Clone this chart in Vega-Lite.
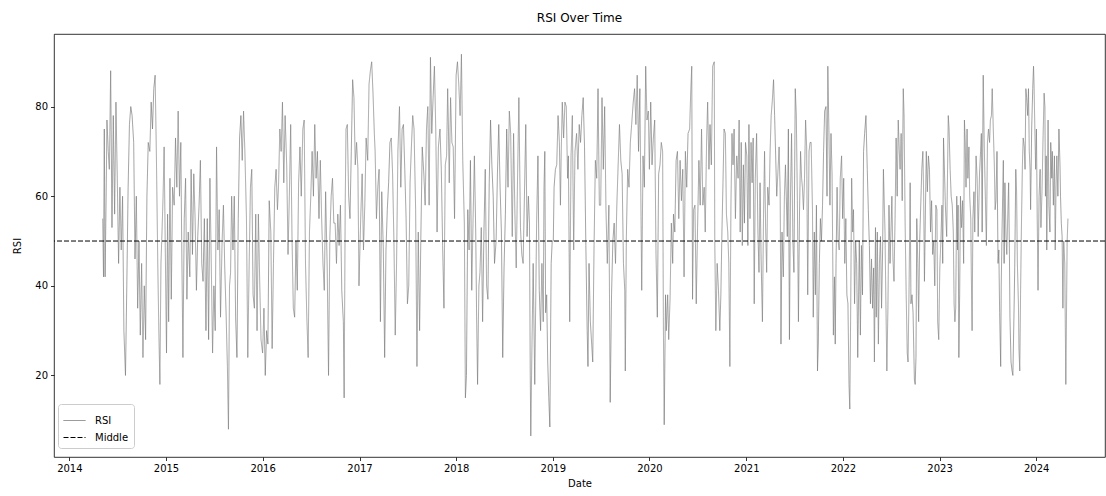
{
"$schema": "https://vega.github.io/schema/vega-lite/v6.json",
"width": 1051, "height": 423,
"autosize": {"type": "none"},
"padding": {"left": 54, "top": 34, "right": 1, "bottom": 39},
"background": "white",
"title": {"text": "RSI Over Time", "fontSize": 12, "font": "DejaVu Sans", "fontWeight": "normal", "color": "black", "offset": 9},
"datasets": {"rsi": [
{"d":"2014-05-07","v":55},{"d":"2014-05-10","v":42},{"d":"2014-05-13","v":75},{"d":"2014-05-16","v":42},{"d":"2014-05-20","v":60},{"d":"2014-05-23","v":77},{"d":"2014-05-28","v":70},
{"d":"2014-06-01","v":66},{"d":"2014-06-06","v":88},{"d":"2014-06-11","v":53},{"d":"2014-06-16","v":78},{"d":"2014-06-21","v":56},{"d":"2014-06-26","v":81},
{"d":"2014-07-01","v":64},{"d":"2014-07-06","v":45},{"d":"2014-07-11","v":62},{"d":"2014-07-16","v":48},{"d":"2014-07-21","v":60},{"d":"2014-07-26","v":30},
{"d":"2014-08-01","v":20},{"d":"2014-08-06","v":40},{"d":"2014-08-11","v":62},{"d":"2014-08-16","v":76},{"d":"2014-08-21","v":80},{"d":"2014-08-26","v":78},
{"d":"2014-09-01","v":72},{"d":"2014-09-06","v":46},{"d":"2014-09-11","v":60},{"d":"2014-09-16","v":35},{"d":"2014-09-21","v":50},{"d":"2014-09-26","v":29},
{"d":"2014-10-01","v":45},{"d":"2014-10-06","v":24},{"d":"2014-10-11","v":40},{"d":"2014-10-16","v":28},{"d":"2014-10-21","v":60},{"d":"2014-10-26","v":72},
{"d":"2014-11-01","v":70},{"d":"2014-11-06","v":81},{"d":"2014-11-11","v":75},{"d":"2014-11-16","v":84},{"d":"2014-11-21","v":87},{"d":"2014-11-26","v":68},
{"d":"2014-12-01","v":45},{"d":"2014-12-05","v":30},{"d":"2014-12-09","v":18},{"d":"2014-12-13","v":45},{"d":"2014-12-17","v":52},{"d":"2014-12-21","v":60},{"d":"2014-12-25","v":71},{"d":"2014-12-29","v":50},
{"d":"2015-01-03","v":25},{"d":"2015-01-07","v":56},{"d":"2015-01-11","v":32},{"d":"2015-01-16","v":64},{"d":"2015-01-21","v":37},{"d":"2015-01-26","v":62},
{"d":"2015-02-01","v":58},{"d":"2015-02-06","v":73},{"d":"2015-02-11","v":62},{"d":"2015-02-16","v":79},{"d":"2015-02-21","v":60},{"d":"2015-02-26","v":72},
{"d":"2015-03-01","v":52},{"d":"2015-03-06","v":24},{"d":"2015-03-11","v":55},{"d":"2015-03-16","v":64},{"d":"2015-03-21","v":37},{"d":"2015-03-26","v":52},
{"d":"2015-04-01","v":42},{"d":"2015-04-06","v":66},{"d":"2015-04-11","v":47},{"d":"2015-04-16","v":65},{"d":"2015-04-21","v":55},{"d":"2015-04-26","v":39},
{"d":"2015-05-01","v":51},{"d":"2015-05-06","v":58},{"d":"2015-05-11","v":68},{"d":"2015-05-16","v":45},{"d":"2015-05-21","v":41},{"d":"2015-05-26","v":55},
{"d":"2015-06-01","v":30},{"d":"2015-06-06","v":55},{"d":"2015-06-11","v":28},{"d":"2015-06-16","v":64},{"d":"2015-06-21","v":45},{"d":"2015-06-26","v":25},
{"d":"2015-07-01","v":40},{"d":"2015-07-06","v":30},{"d":"2015-07-11","v":71},{"d":"2015-07-16","v":48},{"d":"2015-07-21","v":57},{"d":"2015-07-26","v":33},
{"d":"2015-08-01","v":50},{"d":"2015-08-06","v":58},{"d":"2015-08-11","v":44},{"d":"2015-08-16","v":34},{"d":"2015-08-21","v":22},{"d":"2015-08-25","v":8},{"d":"2015-08-29","v":40},
{"d":"2015-09-02","v":43},{"d":"2015-09-06","v":60},{"d":"2015-09-11","v":48},{"d":"2015-09-16","v":60},{"d":"2015-09-21","v":33},{"d":"2015-09-26","v":24},
{"d":"2015-10-01","v":55},{"d":"2015-10-06","v":73},{"d":"2015-10-11","v":78},{"d":"2015-10-16","v":68},{"d":"2015-10-21","v":79},{"d":"2015-10-26","v":70},
{"d":"2015-11-01","v":55},{"d":"2015-11-06","v":24},{"d":"2015-11-11","v":44},{"d":"2015-11-16","v":62},{"d":"2015-11-21","v":66},{"d":"2015-11-26","v":38},
{"d":"2015-12-01","v":35},{"d":"2015-12-06","v":56},{"d":"2015-12-11","v":30},{"d":"2015-12-16","v":56},{"d":"2015-12-21","v":41},{"d":"2015-12-26","v":28},
{"d":"2016-01-01","v":25},{"d":"2016-01-06","v":35},{"d":"2016-01-11","v":20},{"d":"2016-01-16","v":30},{"d":"2016-01-21","v":27},{"d":"2016-01-26","v":59},
{"d":"2016-02-01","v":52},{"d":"2016-02-06","v":26},{"d":"2016-02-11","v":45},{"d":"2016-02-16","v":62},{"d":"2016-02-21","v":66},{"d":"2016-02-26","v":57},
{"d":"2016-03-01","v":62},{"d":"2016-03-06","v":75},{"d":"2016-03-11","v":70},{"d":"2016-03-16","v":81},{"d":"2016-03-21","v":63},{"d":"2016-03-26","v":78},
{"d":"2016-04-01","v":67},{"d":"2016-04-06","v":47},{"d":"2016-04-11","v":60},{"d":"2016-04-16","v":76},{"d":"2016-04-21","v":51},{"d":"2016-04-26","v":35},
{"d":"2016-05-01","v":33},{"d":"2016-05-06","v":50},{"d":"2016-05-11","v":39},{"d":"2016-05-16","v":63},{"d":"2016-05-21","v":71},{"d":"2016-05-26","v":60},
{"d":"2016-06-01","v":75},{"d":"2016-06-06","v":77},{"d":"2016-06-11","v":45},{"d":"2016-06-16","v":33},{"d":"2016-06-21","v":24},{"d":"2016-06-26","v":52},
{"d":"2016-07-01","v":60},{"d":"2016-07-06","v":70},{"d":"2016-07-11","v":60},{"d":"2016-07-16","v":76},{"d":"2016-07-21","v":64},{"d":"2016-07-26","v":70},
{"d":"2016-08-01","v":55},{"d":"2016-08-06","v":68},{"d":"2016-08-11","v":55},{"d":"2016-08-16","v":45},{"d":"2016-08-21","v":39},{"d":"2016-08-26","v":61},
{"d":"2016-09-01","v":44},{"d":"2016-09-06","v":20},{"d":"2016-09-11","v":51},{"d":"2016-09-16","v":60},{"d":"2016-09-21","v":64},{"d":"2016-09-26","v":54},
{"d":"2016-10-01","v":54},{"d":"2016-10-06","v":45},{"d":"2016-10-11","v":56},{"d":"2016-10-16","v":49},{"d":"2016-10-21","v":58},{"d":"2016-10-26","v":39},
{"d":"2016-11-01","v":32},{"d":"2016-11-04","v":15},{"d":"2016-11-08","v":58},{"d":"2016-11-11","v":75},{"d":"2016-11-16","v":76},{"d":"2016-11-21","v":60},{"d":"2016-11-26","v":55},
{"d":"2016-12-01","v":70},{"d":"2016-12-06","v":86},{"d":"2016-12-11","v":82},{"d":"2016-12-16","v":67},{"d":"2016-12-21","v":72},{"d":"2016-12-26","v":66},{"d":"2016-12-30","v":40},
{"d":"2017-01-06","v":56},{"d":"2017-01-11","v":65},{"d":"2017-01-16","v":48},{"d":"2017-01-21","v":58},{"d":"2017-01-26","v":73},
{"d":"2017-02-01","v":68},{"d":"2017-02-06","v":85},{"d":"2017-02-11","v":88},{"d":"2017-02-16","v":90},{"d":"2017-02-21","v":83},{"d":"2017-02-26","v":74},
{"d":"2017-03-01","v":70},{"d":"2017-03-06","v":55},{"d":"2017-03-11","v":62},{"d":"2017-03-16","v":66},{"d":"2017-03-21","v":32},{"d":"2017-03-26","v":61},
{"d":"2017-04-01","v":48},{"d":"2017-04-06","v":24},{"d":"2017-04-11","v":48},{"d":"2017-04-16","v":57},{"d":"2017-04-21","v":63},{"d":"2017-04-26","v":72},
{"d":"2017-05-01","v":73},{"d":"2017-05-06","v":65},{"d":"2017-05-11","v":50},{"d":"2017-05-16","v":29},{"d":"2017-05-21","v":45},{"d":"2017-05-26","v":70},
{"d":"2017-06-01","v":80},{"d":"2017-06-06","v":62},{"d":"2017-06-11","v":75},{"d":"2017-06-16","v":76},{"d":"2017-06-21","v":66},{"d":"2017-06-26","v":55},
{"d":"2017-07-01","v":36},{"d":"2017-07-06","v":40},{"d":"2017-07-11","v":63},{"d":"2017-07-16","v":71},{"d":"2017-07-21","v":78},{"d":"2017-07-26","v":75},
{"d":"2017-08-01","v":57},{"d":"2017-08-06","v":22},{"d":"2017-08-11","v":52},{"d":"2017-08-16","v":30},{"d":"2017-08-21","v":52},{"d":"2017-08-26","v":71},
{"d":"2017-09-01","v":65},{"d":"2017-09-06","v":58},{"d":"2017-09-11","v":75},{"d":"2017-09-16","v":80},{"d":"2017-09-21","v":58},{"d":"2017-09-26","v":91},
{"d":"2017-10-01","v":74},{"d":"2017-10-06","v":82},{"d":"2017-10-11","v":89},{"d":"2017-10-16","v":75},{"d":"2017-10-21","v":52},{"d":"2017-10-26","v":71},
{"d":"2017-11-01","v":75},{"d":"2017-11-06","v":66},{"d":"2017-11-11","v":49},{"d":"2017-11-16","v":35},{"d":"2017-11-21","v":67},{"d":"2017-11-26","v":69},{"d":"2017-11-30","v":84},
{"d":"2017-12-03","v":75},{"d":"2017-12-06","v":63},{"d":"2017-12-11","v":82},{"d":"2017-12-16","v":72},{"d":"2017-12-21","v":71},{"d":"2017-12-26","v":55},
{"d":"2018-01-01","v":87},{"d":"2018-01-06","v":90},{"d":"2018-01-11","v":85},{"d":"2018-01-16","v":78},{"d":"2018-01-21","v":91.7},{"d":"2018-01-26","v":68},
{"d":"2018-02-01","v":54},{"d":"2018-02-05","v":15},{"d":"2018-02-09","v":20},{"d":"2018-02-14","v":57},{"d":"2018-02-19","v":48},{"d":"2018-02-24","v":68},
{"d":"2018-03-01","v":39},{"d":"2018-03-06","v":55},{"d":"2018-03-11","v":69},{"d":"2018-03-16","v":52},{"d":"2018-03-19","v":35},{"d":"2018-03-23","v":18},{"d":"2018-03-28","v":40},
{"d":"2018-04-01","v":43},{"d":"2018-04-06","v":53},{"d":"2018-04-11","v":32},{"d":"2018-04-16","v":52},{"d":"2018-04-21","v":66},{"d":"2018-04-26","v":40},
{"d":"2018-05-01","v":37},{"d":"2018-05-06","v":63},{"d":"2018-05-11","v":77},{"d":"2018-05-16","v":67},{"d":"2018-05-21","v":60},{"d":"2018-05-26","v":45},
{"d":"2018-06-01","v":50},{"d":"2018-06-06","v":65},{"d":"2018-06-11","v":76},{"d":"2018-06-16","v":62},{"d":"2018-06-21","v":52},{"d":"2018-06-26","v":24},
{"d":"2018-07-01","v":44},{"d":"2018-07-06","v":56},{"d":"2018-07-11","v":75},{"d":"2018-07-16","v":62},{"d":"2018-07-21","v":79},{"d":"2018-07-26","v":74},
{"d":"2018-08-01","v":51},{"d":"2018-08-06","v":74},{"d":"2018-08-11","v":56},{"d":"2018-08-16","v":44},{"d":"2018-08-21","v":64},{"d":"2018-08-26","v":82},
{"d":"2018-09-01","v":53},{"d":"2018-09-06","v":47},{"d":"2018-09-11","v":45},{"d":"2018-09-16","v":60},{"d":"2018-09-21","v":76},{"d":"2018-09-26","v":51},
{"d":"2018-10-01","v":60},{"d":"2018-10-05","v":54},{"d":"2018-10-08","v":20},{"d":"2018-10-10","v":6.5},{"d":"2018-10-14","v":25},{"d":"2018-10-19","v":45},{"d":"2018-10-25","v":18},
{"d":"2018-11-01","v":54},{"d":"2018-11-06","v":69},{"d":"2018-11-11","v":39},{"d":"2018-11-16","v":30},{"d":"2018-11-21","v":45},{"d":"2018-11-26","v":32},{"d":"2018-11-29","v":62},
{"d":"2018-12-02","v":70},{"d":"2018-12-05","v":34},{"d":"2018-12-09","v":38},{"d":"2018-12-13","v":23},{"d":"2018-12-17","v":15},{"d":"2018-12-21","v":8.5},{"d":"2018-12-26","v":45},{"d":"2018-12-30","v":50},
{"d":"2019-01-03","v":50},{"d":"2019-01-06","v":62},{"d":"2019-01-11","v":66},{"d":"2019-01-16","v":67},{"d":"2019-01-21","v":78},{"d":"2019-01-26","v":72},{"d":"2019-01-30","v":58},
{"d":"2019-02-02","v":70},{"d":"2019-02-06","v":81},{"d":"2019-02-11","v":73},{"d":"2019-02-16","v":81},{"d":"2019-02-21","v":80},{"d":"2019-02-26","v":64},
{"d":"2019-03-01","v":69},{"d":"2019-03-06","v":32},{"d":"2019-03-11","v":69},{"d":"2019-03-16","v":78},{"d":"2019-03-21","v":48},{"d":"2019-03-26","v":70},
{"d":"2019-04-01","v":74},{"d":"2019-04-06","v":66},{"d":"2019-04-11","v":76},{"d":"2019-04-16","v":72},{"d":"2019-04-21","v":78},{"d":"2019-04-26","v":82},
{"d":"2019-05-01","v":71},{"d":"2019-05-06","v":49},{"d":"2019-05-11","v":30},{"d":"2019-05-14","v":22},{"d":"2019-05-18","v":45},{"d":"2019-05-23","v":32},{"d":"2019-05-28","v":27},
{"d":"2019-06-01","v":23},{"d":"2019-06-06","v":49},{"d":"2019-06-11","v":68},{"d":"2019-06-16","v":64},{"d":"2019-06-21","v":84},{"d":"2019-06-26","v":58},
{"d":"2019-07-01","v":58},{"d":"2019-07-06","v":82},{"d":"2019-07-11","v":66},{"d":"2019-07-16","v":80},{"d":"2019-07-21","v":57},{"d":"2019-07-26","v":45},
{"d":"2019-08-01","v":58},{"d":"2019-08-06","v":14},{"d":"2019-08-11","v":38},{"d":"2019-08-16","v":50},{"d":"2019-08-21","v":54},{"d":"2019-08-26","v":45},{"d":"2019-08-31","v":58},
{"d":"2019-09-05","v":67},{"d":"2019-09-10","v":76},{"d":"2019-09-15","v":68},{"d":"2019-09-20","v":65},{"d":"2019-09-25","v":45},{"d":"2019-09-30","v":39},
{"d":"2019-10-02","v":21},{"d":"2019-10-06","v":51},{"d":"2019-10-11","v":66},{"d":"2019-10-16","v":62},{"d":"2019-10-21","v":72},{"d":"2019-10-26","v":76},
{"d":"2019-11-01","v":81},{"d":"2019-11-06","v":84},{"d":"2019-11-11","v":76},{"d":"2019-11-16","v":87},{"d":"2019-11-21","v":70},{"d":"2019-11-26","v":84},
{"d":"2019-12-03","v":39},{"d":"2019-12-08","v":69},{"d":"2019-12-13","v":62},{"d":"2019-12-18","v":89},{"d":"2019-12-23","v":77},{"d":"2019-12-28","v":79},
{"d":"2020-01-01","v":66},{"d":"2020-01-06","v":81},{"d":"2020-01-11","v":67},{"d":"2020-01-16","v":73},{"d":"2020-01-21","v":77},{"d":"2020-01-26","v":47},{"d":"2020-01-31","v":33},
{"d":"2020-02-05","v":65},{"d":"2020-02-10","v":67},{"d":"2020-02-15","v":72},{"d":"2020-02-20","v":70},{"d":"2020-02-23","v":30},{"d":"2020-02-26","v":9},
{"d":"2020-03-02","v":38},{"d":"2020-03-05","v":30},{"d":"2020-03-10","v":38},{"d":"2020-03-14","v":28},{"d":"2020-03-19","v":37},{"d":"2020-03-24","v":54},{"d":"2020-03-29","v":45},
{"d":"2020-04-01","v":56},{"d":"2020-04-06","v":52},{"d":"2020-04-11","v":68},{"d":"2020-04-16","v":70},{"d":"2020-04-21","v":55},{"d":"2020-04-26","v":68},
{"d":"2020-05-01","v":59},{"d":"2020-05-06","v":66},{"d":"2020-05-11","v":42},{"d":"2020-05-16","v":70},{"d":"2020-05-21","v":62},{"d":"2020-05-26","v":74},
{"d":"2020-06-01","v":75},{"d":"2020-06-05","v":83},{"d":"2020-06-09","v":89},{"d":"2020-06-12","v":37},{"d":"2020-06-16","v":57},{"d":"2020-06-21","v":58},{"d":"2020-06-26","v":36},
{"d":"2020-07-01","v":53},{"d":"2020-07-06","v":68},{"d":"2020-07-11","v":58},{"d":"2020-07-16","v":75},{"d":"2020-07-21","v":58},{"d":"2020-07-26","v":62},{"d":"2020-07-30","v":52},
{"d":"2020-08-04","v":72},{"d":"2020-08-08","v":81},{"d":"2020-08-13","v":66},{"d":"2020-08-17","v":76},{"d":"2020-08-22","v":67},{"d":"2020-08-27","v":89},
{"d":"2020-09-02","v":90},{"d":"2020-09-04","v":50},{"d":"2020-09-08","v":30},{"d":"2020-09-13","v":45},{"d":"2020-09-18","v":39},{"d":"2020-09-23","v":30},{"d":"2020-09-27","v":38},
{"d":"2020-10-01","v":52},{"d":"2020-10-05","v":63},{"d":"2020-10-09","v":75},{"d":"2020-10-14","v":74},{"d":"2020-10-18","v":56},{"d":"2020-10-23","v":52},{"d":"2020-10-27","v":45},{"d":"2020-10-31","v":22},
{"d":"2020-11-04","v":58},{"d":"2020-11-08","v":74},{"d":"2020-11-12","v":67},{"d":"2020-11-16","v":75},{"d":"2020-11-21","v":55},{"d":"2020-11-26","v":69},
{"d":"2020-12-01","v":64},{"d":"2020-12-05","v":77},{"d":"2020-12-09","v":52},{"d":"2020-12-13","v":72},{"d":"2020-12-17","v":49},{"d":"2020-12-21","v":67},{"d":"2020-12-25","v":54},{"d":"2020-12-29","v":72},
{"d":"2021-01-03","v":69},{"d":"2021-01-07","v":49},{"d":"2021-01-11","v":76},{"d":"2021-01-15","v":55},{"d":"2021-01-19","v":72},{"d":"2021-01-23","v":63},{"d":"2021-01-27","v":73},{"d":"2021-01-31","v":36},
{"d":"2021-02-04","v":64},{"d":"2021-02-09","v":74},{"d":"2021-02-14","v":52},{"d":"2021-02-18","v":43},{"d":"2021-02-22","v":63},{"d":"2021-02-26","v":46},
{"d":"2021-03-03","v":32},{"d":"2021-03-07","v":55},{"d":"2021-03-11","v":70},{"d":"2021-03-15","v":53},{"d":"2021-03-19","v":43},{"d":"2021-03-23","v":62},{"d":"2021-03-28","v":58},
{"d":"2021-04-01","v":70},{"d":"2021-04-05","v":78},{"d":"2021-04-09","v":81},{"d":"2021-04-14","v":86},{"d":"2021-04-18","v":78},{"d":"2021-04-22","v":69},{"d":"2021-04-26","v":60},
{"d":"2021-05-01","v":66},{"d":"2021-05-05","v":71},{"d":"2021-05-09","v":61},{"d":"2021-05-12","v":27},{"d":"2021-05-16","v":52},{"d":"2021-05-21","v":42},{"d":"2021-05-25","v":60},{"d":"2021-05-29","v":67},
{"d":"2021-06-01","v":60},{"d":"2021-06-05","v":51},{"d":"2021-06-09","v":75},{"d":"2021-06-13","v":28},{"d":"2021-06-17","v":60},{"d":"2021-06-21","v":74},{"d":"2021-06-26","v":50},{"d":"2021-06-30","v":43},
{"d":"2021-07-05","v":84},{"d":"2021-07-09","v":78},{"d":"2021-07-13","v":59},{"d":"2021-07-17","v":32},{"d":"2021-07-21","v":56},{"d":"2021-07-25","v":70},{"d":"2021-07-29","v":64},
{"d":"2021-08-01","v":62},{"d":"2021-08-05","v":57},{"d":"2021-08-09","v":64},{"d":"2021-08-13","v":77},{"d":"2021-08-17","v":71},{"d":"2021-08-21","v":38},{"d":"2021-08-26","v":70},{"d":"2021-08-30","v":72},
{"d":"2021-09-03","v":72},{"d":"2021-09-08","v":57},{"d":"2021-09-11","v":33},{"d":"2021-09-15","v":52},{"d":"2021-09-19","v":38},{"d":"2021-09-23","v":58},{"d":"2021-09-27","v":21},{"d":"2021-09-30","v":27},
{"d":"2021-10-04","v":45},{"d":"2021-10-08","v":55},{"d":"2021-10-12","v":50},{"d":"2021-10-16","v":58},{"d":"2021-10-20","v":70},{"d":"2021-10-24","v":79},{"d":"2021-10-29","v":80},
{"d":"2021-11-02","v":60},{"d":"2021-11-05","v":89},{"d":"2021-11-09","v":75},{"d":"2021-11-13","v":58},{"d":"2021-11-17","v":74},{"d":"2021-11-21","v":65},{"d":"2021-11-26","v":29},{"d":"2021-11-30","v":42},
{"d":"2021-12-03","v":27},{"d":"2021-12-06","v":45},{"d":"2021-12-10","v":62},{"d":"2021-12-14","v":50},{"d":"2021-12-18","v":48},{"d":"2021-12-22","v":64},{"d":"2021-12-27","v":69},{"d":"2021-12-31","v":55},
{"d":"2022-01-04","v":64},{"d":"2022-01-08","v":45},{"d":"2022-01-12","v":55},{"d":"2022-01-16","v":38},{"d":"2022-01-20","v":36},{"d":"2022-01-24","v":18},{"d":"2022-01-27","v":12.5},{"d":"2022-01-30","v":32},
{"d":"2022-02-03","v":64},{"d":"2022-02-07","v":52},{"d":"2022-02-10","v":57},{"d":"2022-02-14","v":36},{"d":"2022-02-18","v":50},{"d":"2022-02-22","v":45},{"d":"2022-02-26","v":24},
{"d":"2022-03-04","v":50},{"d":"2022-03-08","v":29},{"d":"2022-03-12","v":49},{"d":"2022-03-16","v":38},{"d":"2022-03-20","v":70},{"d":"2022-03-24","v":74},{"d":"2022-03-29","v":78},
{"d":"2022-04-03","v":66},{"d":"2022-04-07","v":57},{"d":"2022-04-11","v":49},{"d":"2022-04-15","v":36},{"d":"2022-04-19","v":46},{"d":"2022-04-23","v":35},{"d":"2022-04-27","v":44},{"d":"2022-04-30","v":23},
{"d":"2022-05-04","v":53},{"d":"2022-05-07","v":33},{"d":"2022-05-11","v":52},{"d":"2022-05-15","v":27},{"d":"2022-05-19","v":45},{"d":"2022-05-23","v":51},{"d":"2022-05-27","v":35},{"d":"2022-05-31","v":48},
{"d":"2022-06-03","v":66},{"d":"2022-06-06","v":59},{"d":"2022-06-09","v":52},{"d":"2022-06-12","v":38},{"d":"2022-06-16","v":21},{"d":"2022-06-20","v":35},{"d":"2022-06-24","v":58},{"d":"2022-06-28","v":45},
{"d":"2022-07-01","v":51},{"d":"2022-07-05","v":60},{"d":"2022-07-09","v":46},{"d":"2022-07-13","v":41},{"d":"2022-07-17","v":55},{"d":"2022-07-21","v":73},{"d":"2022-07-25","v":60},{"d":"2022-07-29","v":77},
{"d":"2022-08-02","v":70},{"d":"2022-08-05","v":66},{"d":"2022-08-09","v":74},{"d":"2022-08-13","v":59},{"d":"2022-08-17","v":84},{"d":"2022-08-20","v":78},{"d":"2022-08-24","v":54},{"d":"2022-08-28","v":38},
{"d":"2022-09-01","v":25},{"d":"2022-09-04","v":23},{"d":"2022-09-08","v":40},{"d":"2022-09-12","v":63},{"d":"2022-09-15","v":36},{"d":"2022-09-19","v":38},{"d":"2022-09-23","v":34},{"d":"2022-09-28","v":19},
{"d":"2022-10-01","v":18},{"d":"2022-10-04","v":24},{"d":"2022-10-07","v":55},{"d":"2022-10-11","v":45},{"d":"2022-10-14","v":32},{"d":"2022-10-18","v":50},{"d":"2022-10-22","v":58},{"d":"2022-10-26","v":66},{"d":"2022-10-30","v":70},
{"d":"2022-11-02","v":60},{"d":"2022-11-05","v":41},{"d":"2022-11-09","v":58},{"d":"2022-11-12","v":70},{"d":"2022-11-16","v":61},{"d":"2022-11-20","v":69},{"d":"2022-11-24","v":66},{"d":"2022-11-28","v":52},
{"d":"2022-12-02","v":59},{"d":"2022-12-06","v":47},{"d":"2022-12-10","v":50},{"d":"2022-12-14","v":40},{"d":"2022-12-18","v":58},{"d":"2022-12-22","v":57},{"d":"2022-12-25","v":32},{"d":"2022-12-29","v":28},
{"d":"2023-01-02","v":44},{"d":"2023-01-06","v":50},{"d":"2023-01-10","v":58},{"d":"2023-01-13","v":45},{"d":"2023-01-16","v":73},{"d":"2023-01-19","v":67},{"d":"2023-01-23","v":58},{"d":"2023-01-28","v":51},
{"d":"2023-02-03","v":78},{"d":"2023-02-06","v":75},{"d":"2023-02-10","v":66},{"d":"2023-02-14","v":60},{"d":"2023-02-18","v":58},{"d":"2023-02-22","v":52},{"d":"2023-02-25","v":36},{"d":"2023-02-28","v":32},
{"d":"2023-03-03","v":35},{"d":"2023-03-07","v":60},{"d":"2023-03-10","v":48},{"d":"2023-03-12","v":58},{"d":"2023-03-15","v":24},{"d":"2023-03-18","v":38},{"d":"2023-03-21","v":60},{"d":"2023-03-25","v":53},{"d":"2023-03-29","v":59},
{"d":"2023-04-02","v":45},{"d":"2023-04-05","v":77},{"d":"2023-04-08","v":72},{"d":"2023-04-11","v":62},{"d":"2023-04-15","v":75},{"d":"2023-04-18","v":64},{"d":"2023-04-22","v":71},{"d":"2023-04-25","v":60},{"d":"2023-04-29","v":55},
{"d":"2023-05-01","v":43},{"d":"2023-05-04","v":30},{"d":"2023-05-07","v":55},{"d":"2023-05-11","v":61},{"d":"2023-05-14","v":52},{"d":"2023-05-19","v":69},{"d":"2023-05-23","v":64},{"d":"2023-05-27","v":51},
{"d":"2023-06-01","v":65},{"d":"2023-06-05","v":70},{"d":"2023-06-08","v":74},{"d":"2023-06-11","v":52},{"d":"2023-06-15","v":87},{"d":"2023-06-19","v":71},{"d":"2023-06-23","v":60},{"d":"2023-06-27","v":49},
{"d":"2023-07-01","v":72},{"d":"2023-07-05","v":75},{"d":"2023-07-09","v":72},{"d":"2023-07-12","v":77},{"d":"2023-07-16","v":78},{"d":"2023-07-19","v":84},{"d":"2023-07-23","v":75},{"d":"2023-07-27","v":67},{"d":"2023-07-30","v":57},
{"d":"2023-08-02","v":59},{"d":"2023-08-06","v":70},{"d":"2023-08-10","v":45},{"d":"2023-08-13","v":48},{"d":"2023-08-16","v":34},{"d":"2023-08-20","v":22},{"d":"2023-08-22","v":40},{"d":"2023-08-25","v":52},{"d":"2023-08-30","v":68},
{"d":"2023-09-02","v":45},{"d":"2023-09-05","v":63},{"d":"2023-09-09","v":51},{"d":"2023-09-12","v":47},{"d":"2023-09-15","v":54},{"d":"2023-09-19","v":63},{"d":"2023-09-22","v":47},{"d":"2023-09-24","v":33},{"d":"2023-09-28","v":23},
{"d":"2023-10-02","v":21},{"d":"2023-10-05","v":20},{"d":"2023-10-09","v":33},{"d":"2023-10-12","v":44},{"d":"2023-10-16","v":66},{"d":"2023-10-19","v":61},{"d":"2023-10-22","v":45},{"d":"2023-10-26","v":36},{"d":"2023-10-28","v":26},{"d":"2023-10-31","v":21},
{"d":"2023-11-03","v":38},{"d":"2023-11-06","v":52},{"d":"2023-11-10","v":67},{"d":"2023-11-13","v":73},{"d":"2023-11-17","v":71},{"d":"2023-11-20","v":66},{"d":"2023-11-23","v":84},{"d":"2023-11-26","v":82},{"d":"2023-11-30","v":78},
{"d":"2023-12-03","v":84},{"d":"2023-12-06","v":70},{"d":"2023-12-09","v":66},{"d":"2023-12-11","v":57},{"d":"2023-12-15","v":75},{"d":"2023-12-19","v":84},{"d":"2023-12-22","v":89},{"d":"2023-12-24","v":85},{"d":"2023-12-27","v":75},{"d":"2023-12-30","v":66},
{"d":"2024-01-02","v":75},{"d":"2024-01-05","v":55},{"d":"2024-01-08","v":39},{"d":"2024-01-12","v":60},{"d":"2024-01-16","v":66},{"d":"2024-01-19","v":53},{"d":"2024-01-23","v":61},{"d":"2024-01-27","v":73},{"d":"2024-01-31","v":83},
{"d":"2024-02-03","v":80},{"d":"2024-02-05","v":60},{"d":"2024-02-08","v":69},{"d":"2024-02-10","v":48},{"d":"2024-02-13","v":65},{"d":"2024-02-15","v":77},{"d":"2024-02-18","v":58},{"d":"2024-02-22","v":52},{"d":"2024-02-25","v":72},{"d":"2024-02-29","v":64},
{"d":"2024-03-02","v":70},{"d":"2024-03-06","v":58},{"d":"2024-03-10","v":69},{"d":"2024-03-13","v":48},{"d":"2024-03-16","v":62},{"d":"2024-03-19","v":69},{"d":"2024-03-23","v":60},{"d":"2024-03-27","v":75},{"d":"2024-03-31","v":67},
{"d":"2024-04-02","v":60},{"d":"2024-04-05","v":54},{"d":"2024-04-08","v":51},{"d":"2024-04-11","v":35},{"d":"2024-04-14","v":50},{"d":"2024-04-18","v":45},{"d":"2024-04-22","v":18},{"d":"2024-04-24","v":30},{"d":"2024-04-27","v":50},{"d":"2024-04-30","v":55}
]},
"layer": [
{
"data": {"name": "rsi"},
"mark": {"type": "line", "strokeWidth": 0.7, "interpolate": "linear"},
"encoding": {
"x": {"field": "d", "type": "temporal",
"scale": {"domain": [{"year": 2013, "month": 11, "date": 4}, {"year": 2024, "month": 9, "date": 17}]},
"axis": {"title": "Date", "format": "%Y", "values": [{"year":2014,"month":1,"date":1},{"year":2015,"month":1,"date":1},{"year":2016,"month":1,"date":1},{"year":2017,"month":1,"date":1},{"year":2018,"month":1,"date":1},{"year":2019,"month":1,"date":1},{"year":2020,"month":1,"date":1},{"year":2021,"month":1,"date":1},{"year":2022,"month":1,"date":1},{"year":2023,"month":1,"date":1},{"year":2024,"month":1,"date":1}], "labelPadding": 3, "titlePadding": 5}},
"y": {"field": "v", "type": "quantitative",
"scale": {"domain": [1.8, 96.2], "nice": false, "zero": false},
"axis": {"title": "RSI", "values": [20, 40, 60, 80], "labelPadding": 3, "titlePadding": 12}},
"color": {"datum": "RSI", "type": "nominal",
"scale": {"domain": ["RSI", "Middle"], "range": ["#7a7a7a", "#000000"]},
"legend": {"title": null, "orient": "none", "legendX": 4, "legendY": 370, "symbolType": "stroke", "symbolSize": 484, "symbolStrokeWidth": 1, "labelFontSize": 10, "labelFont": "DejaVu Sans", "labelColor": "black", "fillColor": "rgba(255,255,255,0.8)", "strokeColor": "#cccccc", "cornerRadius": 3, "padding": 5, "rowPadding": 0, "labelOffset": 9}},
"strokeDash": {"datum": "RSI", "type": "nominal",
"scale": {"domain": ["RSI", "Middle"], "range": [[1, 0], [5, 2]]},
"legend": {"title": null, "orient": "none", "legendX": 4, "legendY": 370, "symbolType": "stroke", "symbolSize": 484, "symbolStrokeWidth": 1, "labelFontSize": 10, "labelFont": "DejaVu Sans", "labelColor": "black", "fillColor": "rgba(255,255,255,0.8)", "strokeColor": "#cccccc", "cornerRadius": 3, "padding": 5, "rowPadding": 0, "labelOffset": 9}}
}
},
{
"data": {"values": [{}]},
"mark": {"type": "rule", "strokeWidth": 1},
"encoding": {
"y": {"datum": 50, "type": "quantitative"},
"color": {"datum": "Middle", "type": "nominal"},
"strokeDash": {"datum": "Middle", "type": "nominal"}
}
}
],
"config": {
"font": "DejaVu Sans",
"view": {"stroke": "black", "strokeWidth": 0.8},
"axis": {"grid": false, "domain": false, "labelFontSize": 10, "labelFont": "DejaVu Sans", "labelColor": "black", "tickColor": "black", "tickSize": 3.5, "tickWidth": 0.8, "titleFontSize": 10, "titleFont": "DejaVu Sans", "titleFontWeight": "normal", "titleColor": "black"}
}
}
